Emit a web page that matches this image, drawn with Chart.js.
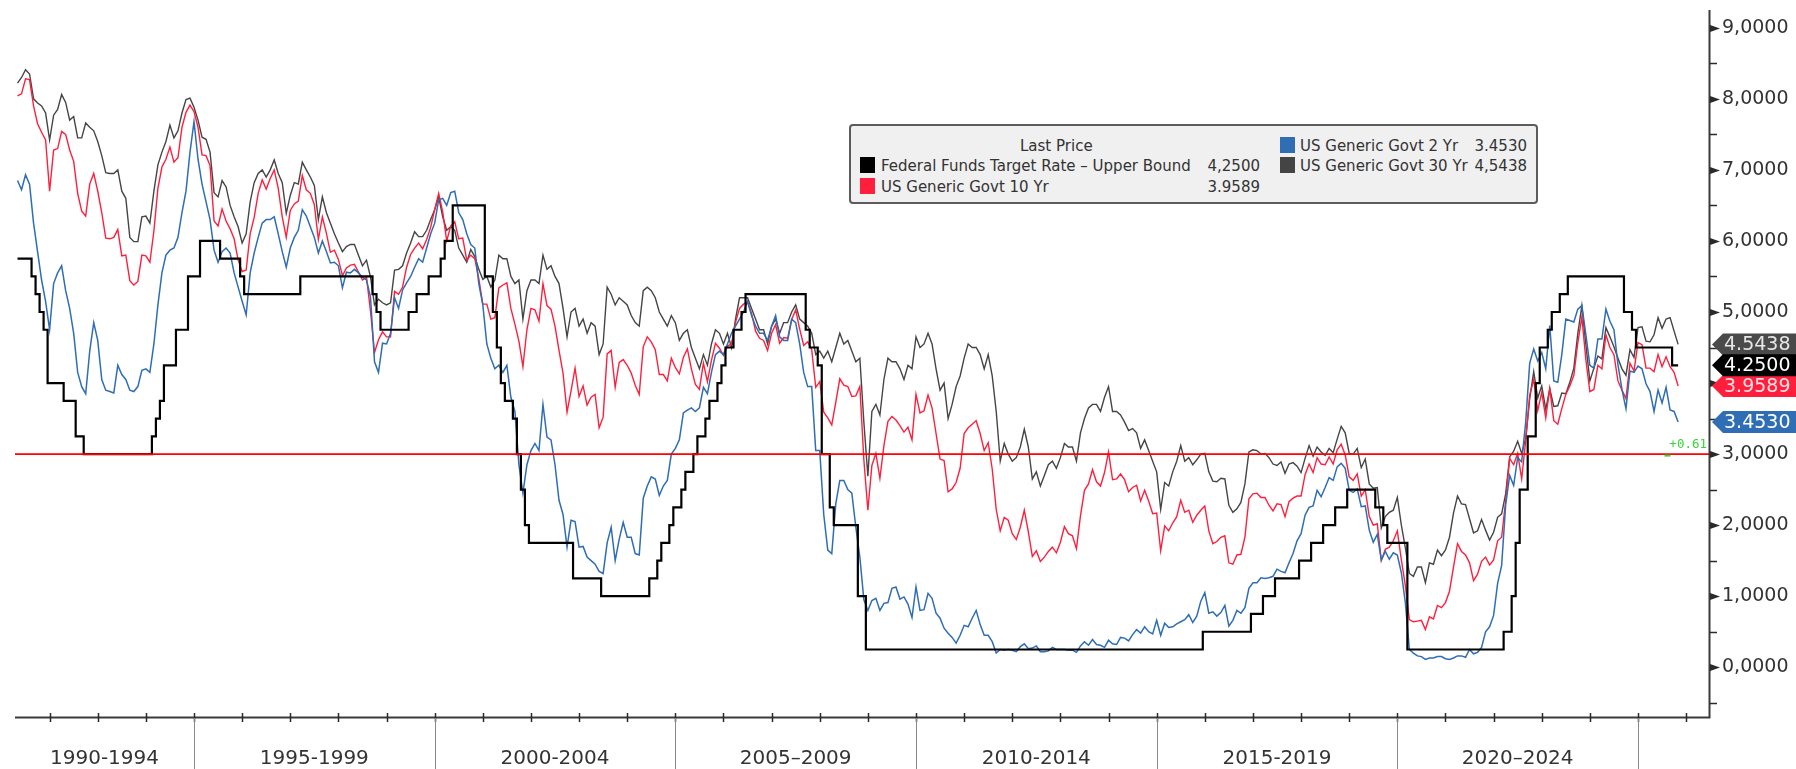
<!DOCTYPE html>
<html>
<head>
<meta charset="utf-8">
<script src="https://cdn.jsdelivr.net/npm/chart.js@4.4.1/dist/chart.umd.min.js"></script>
<style>
html,body{margin:0;padding:0;background:#fff;}
#wrap{position:relative;width:1796px;height:769px;overflow:hidden;}
#c{position:absolute;left:0;top:0;}
#legend{position:absolute;left:849px;top:124px;width:689px;height:80px;box-sizing:border-box;background:#f0f0f0;border:2px solid #5c5c5c;border-radius:4px;font-family:"DejaVu Sans";font-size:15px;color:#333;}
.lg{position:absolute;white-space:nowrap;line-height:18px;}
.val{width:80px;text-align:right;}
.sw{position:absolute;width:15px;height:16px;}
</style>
</head>
<body>
<div id="wrap">
<canvas id="c" width="1796" height="769"></canvas>
<div id="legend">
  <div class="lg" style="left:169px;top:11px;">Last Price</div>
  <div class="sw" style="left:9px;top:31px;background:#000;"></div>
  <div class="lg" style="left:30px;top:31px;">Federal Funds Target Rate – Upper Bound</div>
  <div class="lg val" style="left:329px;top:31px;">4,2500</div>
  <div class="sw" style="left:9px;top:52px;background:#ff1f3d;"></div>
  <div class="lg" style="left:30px;top:52px;">US Generic Govt 10 Yr</div>
  <div class="lg val" style="left:329px;top:52px;">3.9589</div>
  <div class="sw" style="left:429px;top:11px;background:#2f6db5;"></div>
  <div class="lg" style="left:449px;top:11px;">US Generic Govt 2 Yr</div>
  <div class="lg val" style="left:596px;top:11px;">3.4530</div>
  <div class="sw" style="left:429px;top:31px;background:#444;"></div>
  <div class="lg" style="left:449px;top:31px;">US Generic Govt 30 Yr</div>
  <div class="lg val" style="left:596px;top:31px;">4,5438</div>
</div>
</div>
<script>
// Monthly (month-end) observations, first month = April 1991, last = October 2025
const startYear = 1991;
const startMonth = 4;

const fedFunds = [
  5.75,5.75,5.75,5.75,5.5,5.25,5,4.75,4,
  4,4,4,3.75,3.75,3.75,3.25,3.25,3,3,3,3,
  3,3,3,3,3,3,3,3,3,3,3,3,
  3,3.25,3.5,3.75,4.25,4.25,4.25,4.75,4.75,4.75,5.5,5.5,
  5.5,6,6,6,6,6,5.75,5.75,5.75,5.75,5.75,5.5,
  5.25,5.25,5.25,5.25,5.25,5.25,5.25,5.25,5.25,5.25,5.25,5.25,
  5.25,5.25,5.5,5.5,5.5,5.5,5.5,5.5,5.5,5.5,5.5,5.5,
  5.5,5.5,5.5,5.5,5.5,5.5,5.5,5.5,5.25,5,4.75,4.75,
  4.75,4.75,4.75,4.75,4.75,5,5,5.25,5.25,5.25,5.5,5.5,
  5.5,5.75,6,6,6.5,6.5,6.5,6.5,6.5,6.5,6.5,6.5,
  5.5,5.5,5,4.5,4,3.75,3.75,3.5,3,2.5,2,1.75,
  1.75,1.75,1.75,1.75,1.75,1.75,1.75,1.75,1.75,1.75,1.25,1.25,
  1.25,1.25,1.25,1.25,1.25,1,1,1,1,1,1,1,
  1,1,1,1,1,1.25,1.25,1.5,1.75,1.75,2,2.25,
  2.25,2.5,2.75,2.75,3,3.25,3.25,3.5,3.75,3.75,4,4.25,
  4.5,4.5,4.75,4.75,5,5.25,5.25,5.25,5.25,5.25,5.25,5.25,
  5.25,5.25,5.25,5.25,5.25,5.25,5.25,5.25,4.75,4.5,4.5,4.25,
  3,3,2.25,2,2,2,2,2,2,1,1,0.25,
  0.25,0.25,0.25,0.25,0.25,0.25,0.25,0.25,0.25,0.25,0.25,0.25,
  0.25,0.25,0.25,0.25,0.25,0.25,0.25,0.25,0.25,0.25,0.25,0.25,
  0.25,0.25,0.25,0.25,0.25,0.25,0.25,0.25,0.25,0.25,0.25,0.25,
  0.25,0.25,0.25,0.25,0.25,0.25,0.25,0.25,0.25,0.25,0.25,0.25,
  0.25,0.25,0.25,0.25,0.25,0.25,0.25,0.25,0.25,0.25,0.25,0.25,
  0.25,0.25,0.25,0.25,0.25,0.25,0.25,0.25,0.25,0.25,0.25,0.25,
  0.25,0.25,0.25,0.25,0.25,0.25,0.25,0.25,0.25,0.25,0.25,0.5,
  0.5,0.5,0.5,0.5,0.5,0.5,0.5,0.5,0.5,0.5,0.5,0.75,
  0.75,0.75,1,1,1,1.25,1.25,1.25,1.25,1.25,1.25,1.5,
  1.5,1.5,1.75,1.75,1.75,2,2,2,2.25,2.25,2.25,2.5,
  2.5,2.5,2.5,2.5,2.5,2.5,2.25,2.25,2,1.75,1.75,1.75,
  1.75,1.75,0.25,0.25,0.25,0.25,0.25,0.25,0.25,0.25,0.25,0.25,
  0.25,0.25,0.25,0.25,0.25,0.25,0.25,0.25,0.25,0.25,0.25,0.25,
  0.25,0.25,0.5,0.5,1,1.75,2.5,2.5,3.25,3.25,4,4.5,
  4.5,4.75,5,5,5.25,5.25,5.5,5.5,5.5,5.5,5.5,5.5,
  5.5,5.5,5.5,5.5,5.5,5.5,5.5,5.5,5,5,4.75,4.5,
  4.5,4.5,4.5,4.5,4.5,4.5,4.5,4.5,4.25,4.25
];

const govt2y = [
  6.85,6.72,6.93,6.80,6.25,5.85,5.45,5.15,4.75,
  5.40,5.55,5.65,5.30,5.05,4.70,4.15,3.95,3.85,4.45,4.85,4.60,
  4.05,3.90,3.88,3.86,4.25,4.12,4.05,3.90,3.88,3.95,4.18,4.20,
  4.15,4.55,5.10,5.55,5.80,5.87,5.90,6.05,6.40,6.70,7.25,7.68,
  7.15,6.80,6.55,6.30,5.87,5.70,5.85,5.90,5.83,5.55,5.35,5.15,
  4.96,5.55,5.83,6.05,6.25,6.30,6.30,6.34,6.10,5.85,5.63,5.90,
  6.05,6.15,6.44,6.35,6.20,6.05,5.83,6.00,5.85,5.69,5.70,5.65,
  5.34,5.56,5.55,5.60,5.55,5.49,5.45,5.21,4.30,4.15,4.56,4.55,
  4.70,5.20,5.05,5.31,5.41,5.50,5.63,5.75,5.70,5.90,6.10,6.25,
  6.58,6.60,6.50,6.68,6.70,6.40,6.30,6.10,5.95,5.90,5.40,5.10,
  4.55,4.35,4.20,4.25,4.15,4.25,3.80,3.60,2.85,2.45,2.85,3.05,
  3.15,3.05,3.70,3.24,3.20,2.85,2.35,2.15,1.69,2.07,2.05,1.69,
  1.70,1.55,1.50,1.45,1.35,1.32,1.75,1.97,1.50,1.80,2.04,1.83,
  1.83,1.60,1.58,2.38,2.55,2.68,2.65,2.42,2.55,2.63,3.00,3.08,
  3.20,3.58,3.62,3.65,3.60,3.65,3.94,3.85,4.15,4.40,4.45,4.40,
  4.55,4.70,4.80,4.90,5.00,5.15,4.95,4.80,4.70,4.70,4.60,4.80,
  4.95,4.65,4.60,4.60,4.90,4.85,4.55,4.15,3.95,3.95,3.05,3.05,
  2.15,1.65,1.60,2.30,2.63,2.63,2.50,2.45,1.97,1.55,0.95,0.80,
  0.94,0.97,0.80,0.90,0.91,1.11,1.13,0.96,0.99,0.89,0.70,1.13,
  0.80,0.81,1.04,0.97,0.76,0.69,0.55,0.48,0.42,0.34,0.45,0.59,
  0.57,0.69,0.80,0.60,0.45,0.45,0.36,0.20,0.25,0.24,0.25,0.24,
  0.22,0.29,0.33,0.26,0.27,0.30,0.22,0.22,0.23,0.28,0.25,0.25,
  0.25,0.24,0.24,0.21,0.30,0.36,0.31,0.39,0.32,0.31,0.28,0.38,
  0.33,0.32,0.42,0.41,0.37,0.46,0.53,0.48,0.57,0.50,0.47,0.66,
  0.45,0.62,0.56,0.57,0.61,0.64,0.67,0.74,0.63,0.72,0.93,1.05,
  0.76,0.78,0.72,0.77,0.87,0.58,0.66,0.80,0.76,0.84,1.11,1.19,
  1.19,1.26,1.25,1.26,1.28,1.38,1.35,1.33,1.47,1.60,1.78,1.88,
  2.14,2.25,2.27,2.49,2.40,2.53,2.67,2.63,2.82,2.87,2.80,2.49,
  2.46,2.51,2.26,2.27,1.93,1.76,1.87,1.51,1.63,1.52,1.61,1.58,
  1.33,0.91,0.25,0.20,0.16,0.15,0.11,0.13,0.13,0.15,0.15,0.12,
  0.11,0.13,0.16,0.16,0.14,0.25,0.19,0.21,0.28,0.50,0.57,0.73,
  1.18,1.43,2.28,2.70,2.56,2.95,2.89,3.45,4.28,4.48,4.31,4.43,
  4.20,4.81,4.03,4.01,4.40,4.90,4.88,4.86,5.04,5.09,4.68,4.25,
  4.21,4.62,4.62,5.04,4.87,4.75,4.26,3.91,3.64,4.17,4.15,4.24,
  4.20,3.99,3.88,3.60,3.90,3.72,3.94,3.62,3.60,3.453
];

const govt10y = [
  8.04,8.07,8.28,8.27,7.90,7.65,7.53,7.42,6.70,
  7.28,7.30,7.54,7.50,7.28,7.12,6.67,6.42,6.35,6.80,6.95,6.70,
  6.40,6.04,6.03,6.05,6.16,5.79,5.80,5.44,5.38,5.43,5.80,5.79,
  5.70,6.14,6.74,7.04,7.15,7.32,7.11,7.17,7.60,7.81,7.91,7.82,
  7.60,7.21,7.20,7.06,6.28,6.21,6.45,6.28,6.17,6.03,5.73,5.57,
  5.59,6.10,6.33,6.67,6.86,6.73,6.88,7.00,6.74,6.34,6.05,6.43,
  6.52,6.56,6.92,6.72,6.67,6.51,6.02,6.34,6.11,5.84,5.87,5.74,
  5.51,5.62,5.66,5.67,5.56,5.45,5.49,5.01,4.43,4.61,4.72,4.65,
  4.65,5.29,5.25,5.35,5.63,5.81,5.90,5.97,5.89,6.02,6.19,6.44,
  6.67,6.41,6.00,6.21,6.27,6.03,6.04,5.73,5.80,5.75,5.47,5.11,
  5.11,4.90,4.92,5.34,5.38,5.41,5.05,4.83,4.59,4.23,4.75,5.05,
  5.03,4.87,5.40,5.09,5.04,4.80,4.46,4.14,3.59,3.89,4.21,3.81,
  3.96,3.69,3.80,3.84,3.37,3.52,4.41,4.46,3.94,4.29,4.33,4.25,
  4.14,3.97,3.84,4.51,4.65,4.58,4.47,4.12,4.12,4.03,4.35,4.22,
  4.13,4.36,4.48,4.20,3.98,3.91,4.28,4.02,4.32,4.56,4.49,4.39,
  4.52,4.55,4.85,5.05,5.11,5.14,4.98,4.73,4.63,4.60,4.46,4.70,
  4.82,4.56,4.64,4.63,4.89,5.03,4.76,4.53,4.58,4.47,3.94,4.02,
  3.59,3.51,3.41,3.73,4.06,3.97,3.95,3.81,3.82,3.95,2.92,2.21,
  2.84,3.01,2.66,3.12,3.46,3.53,3.48,3.40,3.31,3.38,3.20,3.84,
  3.58,3.61,3.83,3.65,3.29,2.93,2.91,2.47,2.51,2.60,2.80,3.29,
  3.37,3.42,3.47,3.29,3.05,3.16,2.79,2.22,1.92,2.11,2.07,1.88,
  1.80,1.97,2.21,1.91,1.56,1.64,1.49,1.55,1.63,1.69,1.61,1.76,
  1.98,1.88,1.85,1.67,2.13,2.49,2.58,2.78,2.61,2.55,2.74,3.03,
  2.64,2.65,2.72,2.64,2.47,2.53,2.56,2.34,2.49,2.34,2.16,2.17,
  1.64,1.99,1.92,2.03,2.12,2.35,2.18,2.21,2.04,2.14,2.21,2.27,
  1.92,1.74,1.77,1.83,1.85,1.47,1.45,1.58,1.59,1.83,2.37,2.44,
  2.45,2.39,2.39,2.28,2.20,2.30,2.29,2.12,2.33,2.38,2.41,2.41,
  2.71,2.86,2.74,2.95,2.86,2.85,2.96,2.86,3.06,3.14,2.99,2.68,
  2.63,2.72,2.41,2.50,2.12,2.00,2.02,1.50,1.66,1.69,1.78,1.92,
  1.51,1.15,0.67,0.64,0.65,0.66,0.53,0.71,0.68,0.87,0.84,0.91,
  1.07,1.41,1.74,1.63,1.58,1.47,1.22,1.31,1.49,1.55,1.44,1.51,
  1.78,1.83,2.34,2.94,2.85,3.01,2.65,3.19,3.83,4.05,3.61,3.87,
  3.51,3.92,3.47,3.42,3.64,3.84,3.96,4.11,4.57,4.93,4.33,3.88,
  3.91,4.25,4.20,4.68,4.50,4.40,4.03,3.90,3.78,4.28,4.17,4.57,
  4.54,4.21,4.21,4.16,4.40,4.23,4.37,4.23,4.15,3.9589
];

const govt30y = [
  8.22,8.30,8.41,8.35,8.00,7.94,7.90,7.80,7.42,
  7.77,7.85,8.06,7.95,7.70,7.75,7.45,7.45,7.66,7.60,7.55,7.40,
  7.20,6.96,6.95,6.95,7.00,6.70,6.60,6.05,5.99,5.99,6.34,6.35,
  6.25,6.70,7.07,7.25,7.40,7.63,7.45,7.55,7.80,7.99,8.01,7.88,
  7.70,7.46,7.43,7.25,6.68,6.62,6.85,6.76,6.50,6.34,6.20,5.97,
  6.10,6.55,6.82,6.95,7.00,6.90,7.00,7.14,6.95,6.82,6.39,6.64,
  6.82,6.80,7.11,7.00,6.90,6.78,6.30,6.62,6.40,6.25,6.10,5.97,
  5.85,5.92,5.95,5.95,5.80,5.65,5.73,5.49,5.10,5.18,5.13,5.10,
  5.13,5.59,5.60,5.65,5.83,5.97,6.13,6.06,6.06,6.15,6.30,6.44,
  6.62,6.34,6.15,6.20,6.15,5.90,5.80,5.70,5.88,5.78,5.60,5.46,
  5.50,5.35,5.45,5.80,5.75,5.75,5.50,5.40,5.45,4.90,5.30,5.45,
  5.45,5.40,5.80,5.60,5.65,5.50,5.40,5.05,4.65,5.00,5.05,4.80,
  4.90,4.70,4.85,4.80,4.40,4.55,5.35,5.25,5.10,5.20,5.15,5.10,
  4.95,4.85,4.80,5.30,5.35,5.30,5.20,5.00,4.90,4.80,4.95,4.85,
  4.60,4.70,4.75,4.50,4.35,4.20,4.40,4.25,4.55,4.75,4.70,4.55,
  4.70,4.50,4.90,5.20,5.20,5.20,5.05,4.90,4.75,4.75,4.55,4.80,
  4.90,4.70,4.85,4.85,5.00,5.10,4.90,4.85,4.80,4.70,4.40,4.45,
  4.35,4.45,4.30,4.50,4.70,4.55,4.60,4.45,4.30,4.35,3.45,2.69,
  3.60,3.70,3.55,4.05,4.35,4.30,4.30,4.20,4.05,4.25,4.20,4.65,
  4.50,4.55,4.70,4.55,4.20,3.90,4.00,3.50,3.70,3.95,4.10,4.35,
  4.55,4.50,4.50,4.40,4.20,4.40,4.10,3.60,2.90,3.15,3.00,2.90,
  2.95,3.10,3.35,3.10,2.65,2.75,2.55,2.70,2.85,2.90,2.80,2.95,
  3.15,3.10,3.10,2.90,3.30,3.50,3.65,3.70,3.70,3.60,3.80,3.95,
  3.60,3.60,3.55,3.45,3.33,3.36,3.30,3.08,3.20,3.05,2.90,2.75,
  2.22,2.60,2.55,2.75,2.90,3.12,2.90,2.95,2.85,2.92,3.00,3.01,
  2.75,2.62,2.61,2.66,2.65,2.28,2.18,2.23,2.32,2.58,3.03,3.06,
  3.05,3.00,3.01,2.95,2.86,2.84,2.89,2.73,2.86,2.88,2.83,2.74,
  2.94,3.12,2.97,3.10,3.03,2.98,3.08,3.02,3.21,3.39,3.30,3.01,
  3.00,3.08,2.81,2.93,2.58,2.52,2.53,1.96,2.12,2.18,2.21,2.39,
  2.00,1.68,1.32,1.28,1.41,1.41,1.19,1.47,1.45,1.65,1.57,1.65,
  1.83,2.17,2.41,2.30,2.29,2.09,1.89,1.92,2.08,1.93,1.79,1.90,
  2.11,2.16,2.44,2.96,3.04,3.18,3.01,3.22,3.78,4.16,3.79,3.96,
  3.63,3.92,3.67,3.68,3.86,3.85,4.01,4.21,4.70,5.09,4.54,4.03,
  4.21,4.38,4.34,4.78,4.65,4.51,4.35,4.20,4.11,4.47,4.36,4.78,
  4.79,4.59,4.58,4.68,4.92,4.77,4.90,4.92,4.73,4.5438
];

const referenceLevel = 3.0;
const referenceNote = '+0.61';
const periodStarts = [1990, 1995, 2000, 2005, 2010, 2015, 2020];
const periodLabels = ['1990-1994', '1995-1999', '2000-2004', '2005–2009', '2010-2014', '2015-2019', '2020–2024'];
const yTickValues = [0, 1, 2, 3, 4, 5, 6, 7, 8, 9];
const yTickLabels = ['0,0000', '1,0000', '2,0000', '3,0000', '4,0000', '5,0000', '6,0000', '7,0000', '8,0000', '9,0000'];
const xMin = 1991.281, xMax = 2026.475, yMin = -0.7, yMax = 9.25;

// month-end positions of each observation (decimal years)
const monthEnds = fedFunds.map((_, i) => startYear + (startMonth + i) / 12);
const toXY = arr => arr.map((v, i) => ({ x: monthEnds[i], y: v }));
const periodCenters = periodStarts.map(s => (Math.max(s, xMin) + Math.min(s + 5, xMax)) / 2);

const COL = { ff: '#000000', y2: '#2f6db5', y10: '#ff1f3d', y30: '#454545' };

const decor = {
  id: 'bbgDecor',
  afterDraw(chart) {
    const { ctx, chartArea: a, scales: { x, y } } = chart;
    ctx.save();
    ctx.strokeStyle = '#3a3a3a';
    ctx.lineWidth = 2;
    ctx.beginPath();
    ctx.moveTo(a.left, a.bottom + 0.5); ctx.lineTo(a.right + 1, a.bottom + 0.5);
    ctx.moveTo(a.right + 0.5, a.top); ctx.lineTo(a.right + 0.5, a.bottom + 1.5);
    ctx.stroke();
    // year ticks and 5-year separators
    for (let yr = Math.ceil(xMin); yr <= Math.floor(xMax); yr++) {
      const px = Math.round(x.getPixelForValue(yr)) + 0.5;
      ctx.strokeStyle = '#2a2a2a'; ctx.lineWidth = 1.5;
      ctx.beginPath(); ctx.moveTo(px, a.bottom - 4); ctx.lineTo(px, a.bottom + 5); ctx.stroke();
      if (yr % 5 === 0) {
        ctx.strokeStyle = '#8a8a8a'; ctx.lineWidth = 1;
        ctx.beginPath(); ctx.moveTo(px, a.bottom + 1); ctx.lineTo(px, chart.height); ctx.stroke();
      }
    }
    // y ticks
    const ax = a.right + 1;
    ctx.fillStyle = '#2a2a2a'; ctx.strokeStyle = '#2a2a2a'; ctx.lineWidth = 1.5;
    for (let v = -0.5; v <= 9.0; v += 0.5) {
      const py = Math.round(y.getPixelForValue(v)) + 0.5;
      if (Number.isInteger(v)) {
        ctx.beginPath(); ctx.moveTo(ax, py - 3.5); ctx.lineTo(ax + 10, py); ctx.lineTo(ax, py + 3.5); ctx.closePath(); ctx.fill();
      } else {
        ctx.beginPath(); ctx.moveTo(ax, py); ctx.lineTo(ax + 7, py); ctx.stroke();
      }
    }
    // reference note
    ctx.fillStyle = '#3ad43a';
    ctx.font = '12.5px "DejaVu Sans Mono"';
    ctx.textAlign = 'right'; ctx.textBaseline = 'middle';
    ctx.fillText(referenceNote, a.right - 2, y.getPixelForValue(referenceLevel) - 9);
    ctx.fillRect(x.getPixelForValue(2025.55), y.getPixelForValue(referenceLevel) + 0.5, 6, 2);
    // last-value flags
    const flags = [
      { v: govt30y[govt30y.length - 1], c: '#4a4a4a', t: '#e6e6e6' },
      { v: govt10y[govt10y.length - 1], c: '#ff1f3d', t: '#ffe0e4' },
      { v: govt2y[govt2y.length - 1], c: '#2f6db5', t: '#ffffff' },
      { v: fedFunds[fedFunds.length - 1], c: '#000000', t: '#ffffff' }
    ];
    ctx.font = '19px "DejaVu Sans"';
    ctx.textAlign = 'left'; ctx.textBaseline = 'middle';
    flags.forEach(f => {
      const yc = y.getPixelForValue(f.v);
      const h = 11;
      ctx.beginPath();
      ctx.moveTo(ax + 2, yc);
      ctx.lineTo(ax + 13, yc - h);
      ctx.lineTo(chart.width, yc - h);
      ctx.lineTo(chart.width, yc + h);
      ctx.lineTo(ax + 13, yc + h);
      ctx.closePath();
      ctx.fillStyle = f.c; ctx.fill();
      ctx.fillStyle = f.t;
      ctx.fillText(f.v.toFixed(4), ax + 14, yc + 1);
    });
    ctx.restore();
  }
};

new Chart(document.getElementById('c'), {
  type: 'line',
  data: {
    datasets: [
      { label: 'Level', data: [{ x: xMin, y: referenceLevel }, { x: xMax, y: referenceLevel }], borderColor: '#ff0000', borderWidth: 1.8 },
      { label: 'Federal Funds Target Rate – Upper Bound', data: toXY(fedFunds), borderColor: COL.ff, borderWidth: 2.2, stepped: 'middle' },
      { label: 'US Generic Govt 2 Yr', data: toXY(govt2y), borderColor: COL.y2, borderWidth: 1.5 },
      { label: 'US Generic Govt 10 Yr', data: toXY(govt10y), borderColor: COL.y10, borderWidth: 1.4 },
      { label: 'US Generic Govt 30 Yr', data: toXY(govt30y), borderColor: COL.y30, borderWidth: 1.4 }
    ]
  },
  options: {
    responsive: false,
    animation: false,
    events: [],
    devicePixelRatio: 1,
    layout: { padding: { left: 15, top: 10, right: 0, bottom: 0 } },
    elements: { point: { radius: 0 }, line: { tension: 0, fill: false } },
    plugins: { legend: { display: false }, tooltip: { enabled: false } },
    scales: {
      x: {
        type: 'linear', position: 'bottom', min: xMin, max: xMax,
        grid: { display: false, drawTicks: false }, border: { display: false },
        ticks: { autoSkip: false, maxRotation: 0, padding: 30, color: '#333', font: { family: 'DejaVu Sans', size: 20 },
          callback: (v, i) => periodLabels[i] },
        afterBuildTicks: s => { s.ticks = periodCenters.map(v => ({ value: v })); },
        afterFit: s => { s.height = 52; s.paddingLeft = 0; s.paddingRight = 0; }
      },
      y: {
        type: 'linear', position: 'right', min: yMin, max: yMax,
        grid: { display: false, drawTicks: false }, border: { display: false },
        ticks: { padding: 13, color: '#333', font: { family: 'DejaVu Sans', size: 19 },
          callback: (v, i) => yTickLabels[i] },
        afterBuildTicks: s => { s.ticks = yTickValues.map(v => ({ value: v })); },
        afterFit: s => { s.width = 87; s.paddingTop = 0; s.paddingBottom = 0; }
      }
    }
  },
  plugins: [decor]
});
</script>
</body>
</html>
